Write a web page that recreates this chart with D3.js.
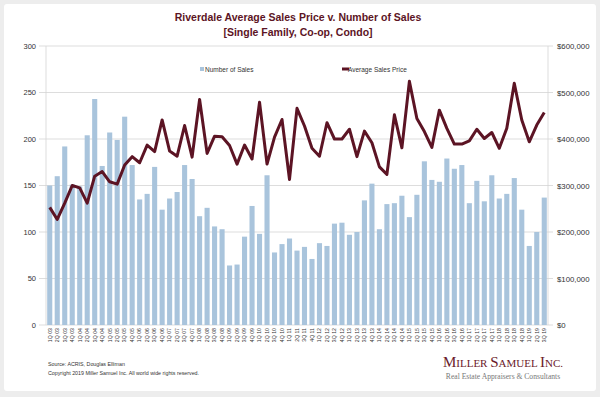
<!DOCTYPE html>
<html><head><meta charset="utf-8">
<script src="https://cdn.jsdelivr.net/npm/d3@7"></script>
<style>
html,body{margin:0;padding:0;background:#ededed;}
svg{display:block;}
</style></head>
<body>
<svg id="c" width="600" height="397"></svg>
<script>
const quarters = ["1Q 03","2Q 03","3Q 03","4Q 03","1Q 04","2Q 04","3Q 04","4Q 04","1Q 05","2Q 05","3Q 05","4Q 05","1Q 06","2Q 06","3Q 06","4Q 06","1Q 07","2Q 07","3Q 07","4Q 07","1Q 08","2Q 08","3Q 08","4Q 08","1Q 09","2Q 09","3Q 09","4Q 09","1Q 10","2Q 10","3Q 10","4Q 10","1Q 11","2Q 11","3Q 11","4Q 11","1Q 12","2Q 12","3Q 12","4Q 12","1Q 13","2Q 13","3Q 13","4Q 13","1Q 14","2Q 14","3Q 14","4Q 14","1Q 15","2Q 15","3Q 15","4Q 15","1Q 16","2Q 16","3Q 16","4Q 16","1Q 17","2Q 17","3Q 17","4Q 17","1Q 18","2Q 18","3Q 18","4Q 18","1Q 19","2Q 19","3Q 19"];
const numberOfSales = [150,160,192,151,149,204,243,171,207,199,224,172,135,141,170,124,136,143,172,157,117,126,106,103,64,65,95,128,98,161,78,87,93,80,84,71,88,85,109,110,97,100,134,152,103,130,131,139,116,140,176,156,154,179,168,172,131,155,133,161,136,141,158,124,85,100,137];
const avgPrice = [253000,227000,262000,300000,295000,262000,320000,330000,308000,303000,344000,362000,349000,387000,373000,441000,374000,363000,429000,361000,485000,369000,406000,405000,386000,346000,387000,357000,479000,346000,404000,442000,313000,466000,428000,380000,363000,435000,400000,400000,421000,362000,417000,392000,340000,324000,452000,381000,524000,444000,416000,382000,462000,423000,389000,389000,396000,421000,401000,414000,380000,423000,520000,441000,394000,430000,457000];
const leftTicks = [0,50,100,150,200,250,300];
const rightTicks = [0,100000,200000,300000,400000,500000,600000];

const svg = d3.select("#c");
// card
svg.append("rect").attr("x",4).attr("y",4).attr("width",592).attr("height",387).attr("rx",3).attr("fill","#fff");

const L=46, R=548, T=46, B=325;
const x = d3.scaleBand().domain(quarters).range([L,R]).paddingInner(0.32).paddingOuter(0.16);
const yL = d3.scaleLinear().domain([0,300]).range([B,T]);
const yR = d3.scaleLinear().domain([0,600000]).range([B,T]);

// gridlines
svg.append("g").selectAll("line").data(leftTicks).join("line")
  .attr("x1",39).attr("x2",553).attr("y1",d=>yL(d)).attr("y2",d=>yL(d))
  .attr("stroke","#d4d4d4").attr("stroke-width",0.8);
// axis verticals
svg.append("line").attr("x1",L).attr("x2",L).attr("y1",T).attr("y2",B).attr("stroke","#d4d4d4").attr("stroke-width",0.8);
svg.append("line").attr("x1",R).attr("x2",R).attr("y1",T).attr("y2",B).attr("stroke","#d4d4d4").attr("stroke-width",0.8);

// bars
svg.append("g").selectAll("rect").data(numberOfSales).join("rect")
  .attr("x",(d,i)=>x(quarters[i])).attr("width",x.bandwidth())
  .attr("y",d=>yL(d)).attr("height",d=>B-yL(d)).attr("fill","#a9c4dc");

// line
const line = d3.line().x((d,i)=>x(quarters[i])+x.bandwidth()/2).y(d=>yR(d));
svg.append("path").datum(avgPrice).attr("d",line).attr("fill","none")
  .attr("stroke","#5c1424").attr("stroke-width",3).attr("stroke-linejoin","round");

// left axis
const ga = svg.append("g").attr("transform",`translate(${L-7},0)`)
  .call(d3.axisLeft(yL).tickValues(leftTicks).tickSize(0).tickPadding(3));
ga.select(".domain").remove();
ga.selectAll("text").attr("font-family","Liberation Sans, Arial, sans-serif").attr("font-size",7.5).attr("fill","#333");
// right axis
const gr = svg.append("g").attr("transform",`translate(${R+5},0)`)
  .call(d3.axisRight(yR).tickValues(rightTicks).tickSize(0).tickPadding(4).tickFormat(d=>"$"+d3.format(",")(d)));
gr.select(".domain").remove();
gr.selectAll("text").attr("font-family","Liberation Sans, Arial, sans-serif").attr("font-size",7.8).attr("fill","#333");

// x axis labels
const gx = svg.append("g").attr("transform",`translate(0,${B})`).call(d3.axisBottom(x).tickSize(0).tickPadding(0));
gx.select(".domain").remove();
gx.selectAll("text")
  .attr("font-family","Liberation Sans, Arial, sans-serif").attr("font-size",5.2).attr("fill","#333")
  .attr("text-anchor","end").attr("dy","0.35em")
  .attr("transform","translate(0,3) rotate(-90)");

// titles
const tf = "Liberation Sans, Arial, sans-serif";
svg.append("text").attr("x",298).attr("y",21).attr("text-anchor","middle").attr("font-family",tf)
  .attr("font-weight","bold").attr("font-size",10.5).attr("fill","#5c1424").text("Riverdale Average Sales Price v. Number of Sales");
svg.append("text").attr("x",298).attr("y",36).attr("text-anchor","middle").attr("font-family",tf)
  .attr("font-weight","bold").attr("font-size",10.5).attr("fill","#5c1424").text("[Single Family, Co-op, Condo]");

// legend
svg.append("rect").attr("x",200).attr("y",67).attr("width",4).attr("height",4).attr("fill","#a9c4dc");
svg.append("text").attr("x",205).attr("y",71.5).attr("font-family",tf).attr("font-size",6.5).attr("fill","#333").text("Number of Sales");
svg.append("line").attr("x1",342).attr("x2",349).attr("y1",69).attr("y2",69).attr("stroke","#5c1424").attr("stroke-width",3);
svg.append("text").attr("x",348).attr("y",71.5).attr("font-family",tf).attr("font-size",6.5).attr("fill","#333").text("Average Sales Price");

// source
svg.append("text").attr("x",48).attr("y",366).attr("font-family",tf).attr("font-size",5.3).attr("fill","#333").text("Source: ACRIS, Douglas Elliman");
svg.append("text").attr("x",48).attr("y",375).attr("font-family",tf).attr("font-size",5.3).attr("fill","#333").text("Copyright 2019 Miller Samuel Inc.  All world wide rights reserved.");

// logo
const lg = svg.append("text").attr("x",503).attr("y",367).attr("text-anchor","middle")
  .attr("font-family","Liberation Serif, Times New Roman, serif").attr("fill","#6b1a2a");
[["M",15],["ILLER ",11],["S",15],["AMUEL ",11],["I",15],["NC.",11]].forEach(([t,s])=>lg.append("tspan").attr("font-size",s).text(t));
svg.append("text").attr("x",503).attr("y",379).attr("text-anchor","middle")
  .attr("font-family","Liberation Serif, Times New Roman, serif").attr("font-size",7.6).attr("fill","#777")
  .text("Real Estate Appraisers & Consultants");
</script>
</body></html>
